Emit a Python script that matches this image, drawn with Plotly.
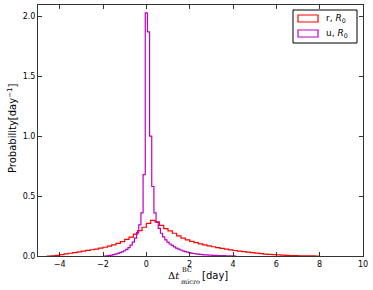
import numpy as np
import plotly.graph_objects as go

# ---------------- data ----------------
# r, R0 histogram: bin width 0.2 day, bins from -4.6 to 8.0
r_bin_start = -4.6
r_bin_width = 0.2
r_values = [
    0.0, 0.002, 0.006, 0.011, 0.017, 0.023, 0.029, 0.035, 0.041, 0.047,
    0.052, 0.058, 0.065, 0.073, 0.082, 0.093, 0.106, 0.12, 0.138, 0.158,
    0.183, 0.212, 0.24, 0.272, 0.298, 0.284, 0.256, 0.229, 0.21, 0.19,
    0.168, 0.15, 0.135, 0.122, 0.112, 0.102, 0.093, 0.085, 0.077, 0.07,
    0.063, 0.057, 0.051, 0.046, 0.041, 0.036, 0.032, 0.028, 0.024, 0.02,
    0.016, 0.013, 0.011, 0.009, 0.007, 0.005, 0.004, 0.003, 0.002, 0.0015,
    0.001, 0.0005, 0.0,
]
# u, R0 histogram: bin width 0.1 day, bins from -1.95 to 4.15
u_bin_start = -1.95
u_bin_width = 0.1
u_values = [
    0.0, 0.002, 0.004, 0.007, 0.011, 0.016, 0.022, 0.028, 0.035, 0.044,
    0.055, 0.07, 0.09, 0.115, 0.15, 0.195, 0.26, 0.36, 0.68,
    2.03, 1.87, 1.0, 0.58, 0.36, 0.28, 0.23, 0.19, 0.16, 0.135,
    0.115, 0.10, 0.088, 0.076, 0.066, 0.057, 0.05, 0.043, 0.037, 0.032,
    0.028, 0.024, 0.021, 0.018, 0.016, 0.014, 0.012, 0.010, 0.009, 0.008,
    0.007, 0.006, 0.005, 0.004, 0.0035, 0.003, 0.0025, 0.002, 0.0015, 0.001,
    0.0008, 0.0,
]
series_names = ["r, <i>R</i><sub>0</sub>", "u, <i>R</i><sub>0</sub>"]
series_colors = ["#ff0000", "#bf00bf"]
x_ticks = [-4, -2, 0, 2, 4, 6, 8, 10]
y_ticks = [0.0, 0.5, 1.0, 1.5, 2.0]


def step_outline(start, width, vals):
    n = len(vals)
    edges = start + width * np.arange(n + 1)
    xs = [edges[0]] + list(edges[:n]) + [edges[n]]
    ys = [0.0] + list(vals) + [0.0]
    return xs, ys


fig = go.Figure()
for (start, width, vals), name, col in zip(
    [(r_bin_start, r_bin_width, r_values), (u_bin_start, u_bin_width, u_values)],
    series_names, series_colors):
    xs, ys = step_outline(start, width, vals)
    fig.add_trace(go.Scatter(
        x=xs, y=ys, mode="lines", line=dict(color=col, width=1.2, shape="hv"),
        name=name, hoverinfo="skip", showlegend=False))

W, H = 373, 290
L, R, T, B = 38, 10, 5, 34
pw, ph = W - L - R, H - T - B


def px(x, y):
    return (x - L) / pw, (H - B - y) / ph


axis_common = dict(
    showgrid=False, zeroline=False, showline=True, linecolor="#333333",
    linewidth=1, mirror="ticks", ticks="inside", ticklen=4, tickwidth=1,
    tickcolor="#333333", tickfont=dict(family="DejaVu Sans", size=8, color="black"),
)
fig.update_layout(
    width=W, height=H, margin=dict(l=L, r=R, t=T, b=B),
    paper_bgcolor="white", plot_bgcolor="white",
    xaxis=dict(range=[-5, 10], tickvals=x_ticks,
               ticktext=["\u2212" + str(-v) if v < 0 else str(v) for v in x_ticks],
               **axis_common),
    yaxis=dict(range=[0, 2.095], tickvals=y_ticks,
               ticktext=["%.1f" % v for v in y_ticks], **axis_common),
    showlegend=False,
)

serif = "DejaVu Serif"
annos = []
shapes = []
# y-axis title
ax, ay = px(12, 129)
annos.append(dict(text="Probability[day<sup>\u22121</sup>]", x=ax, y=ay,
                  textangle=-90, xanchor="center", yanchor="middle",
                  font=dict(family="DejaVu Sans", size=10, color="black")))
# x-axis title pieces
ax, ay = px(181, 275)
annos.append(dict(text="\u0394<i>t</i>", x=ax, y=ay, xanchor="right", yanchor="middle",
                  font=dict(family=serif, size=10, color="black")))
ax, ay = px(180.5, 270)
annos.append(dict(text="BC", x=ax, y=ay, xanchor="left", yanchor="middle",
                  font=dict(family=serif, size=6.5, color="black")))
ax, ay = px(180, 281.5)
annos.append(dict(text="micro", x=ax, y=ay, xanchor="left", yanchor="middle",
                  font=dict(family=serif, size=6.5, color="black")))
ax, ay = px(201, 275)
annos.append(dict(text="[day]", x=ax, y=ay, xanchor="left", yanchor="middle",
                  font=dict(family="DejaVu Sans", size=10, color="black")))

# legend (drawn by hand so that the handles are open rectangles like the reference)
x0, y0 = px(293, 10)
x1, y1 = px(357, 43)
shapes.append(dict(type="rect", x0=x0, y0=y0, x1=x1, y1=y1, line=dict(color="black", width=1),
                   fillcolor="white", layer="above"))
for i, (name, col) in enumerate(zip(series_names, series_colors)):
    top = 15 + i * 15
    a0, b0 = px(298, top)
    a1, b1 = px(318, top + 7)
    shapes.append(dict(type="rect", x0=a0, y0=b0, x1=a1, y1=b1,
                       line=dict(color=col, width=1.2), fillcolor="rgba(0,0,0,0)", layer="above"))
    tx, ty = px(325, top + 3.5)
    annos.append(dict(text=name, x=tx, y=ty, xanchor="left", yanchor="middle",
                      font=dict(family="DejaVu Sans", size=9, color="black")))

for a in annos:
    a.update(xref="paper", yref="paper", showarrow=False, borderpad=0)
for s in shapes:
    s.update(xref="paper", yref="paper")
fig.update_layout(annotations=annos, shapes=shapes)

fig.write_html("out.html", config={"displayModeBar": False},
               post_script="document.body.style.margin='0';")
